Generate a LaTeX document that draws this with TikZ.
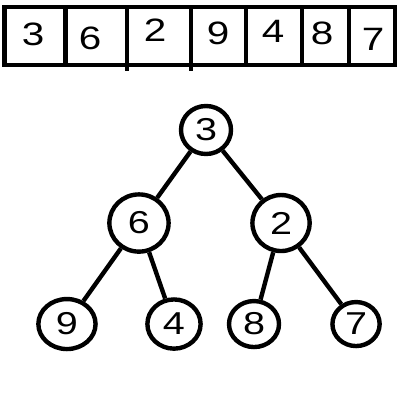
\documentclass[tikz,border=0pt]{standalone}
\usepackage{fontspec}
\setmainfont{Liberation Sans}
\usetikzlibrary{shapes.geometric}
\newcommand\wide[1]{\scalebox{1.25}[1]{#1}}
\begin{document}
\begin{tikzpicture}[x=0.025cm, y=-0.025cm, line width=0.11cm,
  vertex/.style={draw, ellipse, inner sep=0pt, font=\fontsize{22.5}{22.5}\selectfont},
  cell/.style={inner sep=0pt, font=\fontsize{23}{23}\selectfont},
  level 1/.style={level distance=2.325cm, sibling distance=3.55cm},
  level 2/.style={level distance=2.525cm, sibling distance=2.6cm},
  edge from parent/.style={draw}]
  \useasboundingbox (0,0) rectangle (400,400);
  % array
  \draw (4.5,7) rectangle (395,65);
  \foreach \x in {65.5,246,302,349}
    \draw (\x,7) -- (\x,65);
  \foreach \x in {127,191}
    \draw (\x,7) -- (\x,71);
  \foreach \v/\x/\y in {3/33/34, 6/90/38, 2/155/30, 9/218/33, 4/273/31, 8/322/33, 7/373/39}
    \node[cell] (c\v) at (\x,\y) {\wide{\v}};
  % heap
  \node[vertex, minimum width=1.25cm, minimum height=1.2cm] (n3) at (206,130) {\wide{3}}
    child[xshift=0.1cm] {node[vertex, minimum width=1.48cm, minimum height=1.43cm] (n6) {\wide{6}}
      child[xshift=-0.5cm] {node[vertex, minimum width=1.43cm, minimum height=1.25cm] (n9) {\wide{9}}}
      child[xshift=-0.425cm] {node[vertex, minimum width=1.33cm, minimum height=1.23cm] (n4) {\wide{4}}}
    }
    child[xshift=0.1cm] {node[vertex, minimum width=1.43cm, minimum height=1.4cm] (n2) {\wide{2}}
      child[xshift=0.625cm] {node[vertex, minimum width=1.25cm, minimum height=1.15cm] (n8) {\wide{8}}}
      child[xshift=0.575cm] {node[vertex, minimum width=1.18cm, minimum height=1.1cm] (n7) {\wide{7}}}
    };
\end{tikzpicture}
\end{document}
